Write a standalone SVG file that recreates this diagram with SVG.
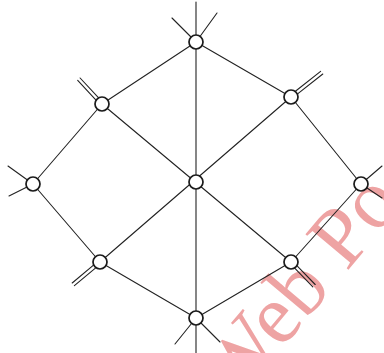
<svg xmlns="http://www.w3.org/2000/svg" width="384" height="353" viewBox="0 0 384 353">
<style>
.e{stroke:#222;stroke-width:1.1;fill:none;stroke-linecap:round}
.n{fill:#fff;stroke:#1a1a1a;stroke-width:1.7}
.wm{font-family:"Liberation Serif",serif;fill:#eea3a3}
</style>
<rect width="384" height="353" fill="#fff"/>
<text class="wm" transform="translate(234,406) rotate(-50)" font-size="85">Web Po</text>
<g id="connectors">
<line class="e" x1="196" y1="2" x2="196" y2="353"/>
<line class="e" x1="196" y1="42" x2="172" y2="18"/>
<line class="e" x1="196" y1="42" x2="217" y2="13"/>
<line class="e" x1="196" y1="42" x2="102" y2="104"/>
<line class="e" x1="196" y1="42" x2="291" y2="97"/>
<line class="e" x1="102" y1="104" x2="33" y2="184"/>
<line class="e" x1="102" y1="104" x2="291" y2="262"/>
<line class="e" x1="291" y1="97" x2="100" y2="262"/>
<line class="e" x1="291" y1="97" x2="361" y2="184"/>
<line class="e" x1="33" y1="184" x2="100" y2="262"/>
<line class="e" x1="361" y1="184" x2="291" y2="262"/>
<line class="e" x1="100" y1="262" x2="196" y2="318"/>
<line class="e" x1="291" y1="262" x2="196" y2="318"/>
<line class="e" x1="33" y1="184" x2="8" y2="166"/>
<line class="e" x1="33" y1="184" x2="9" y2="196"/>
<line class="e" x1="361" y1="184" x2="382" y2="166"/>
<line class="e" x1="361" y1="184" x2="382" y2="198"/>
<line class="e" x1="196" y1="318" x2="175" y2="344"/>
<line class="e" x1="196" y1="318" x2="220" y2="342"/>
<line class="e" x1="98.4" y1="97.7" x2="80.1" y2="78"/>
<line class="e" x1="96" y1="100.1" x2="77.7" y2="80.4"/>
<line class="e" x1="297.6" y1="93.9" x2="322.8" y2="74"/>
<line class="e" x1="295.4" y1="91.3" x2="320.6" y2="71.4"/>
<line class="e" x1="95.7" y1="267.8" x2="74.4" y2="285.6"/>
<line class="e" x1="93.5" y1="265.2" x2="72.2" y2="283"/>
<line class="e" x1="297.1" y1="265.8" x2="315.2" y2="284.5"/>
<line class="e" x1="294.7" y1="268.2" x2="312.8" y2="286.9"/>
</g>
<g id="n-top"><circle class="n" cx="196" cy="42" r="7"/></g>
<g id="n-ul"><circle class="n" cx="102" cy="104" r="7"/></g>
<g id="n-ur"><circle class="n" cx="291" cy="97" r="7"/></g>
<g id="n-left"><circle class="n" cx="33" cy="184" r="7"/></g>
<g id="n-center"><circle class="n" cx="196" cy="182" r="7"/></g>
<g id="n-right"><circle class="n" cx="361" cy="184" r="7"/></g>
<g id="n-ll"><circle class="n" cx="100" cy="262" r="7"/></g>
<g id="n-lr"><circle class="n" cx="291" cy="262" r="7"/></g>
<g id="n-bottom"><circle class="n" cx="196" cy="318" r="7"/></g>
</svg>
